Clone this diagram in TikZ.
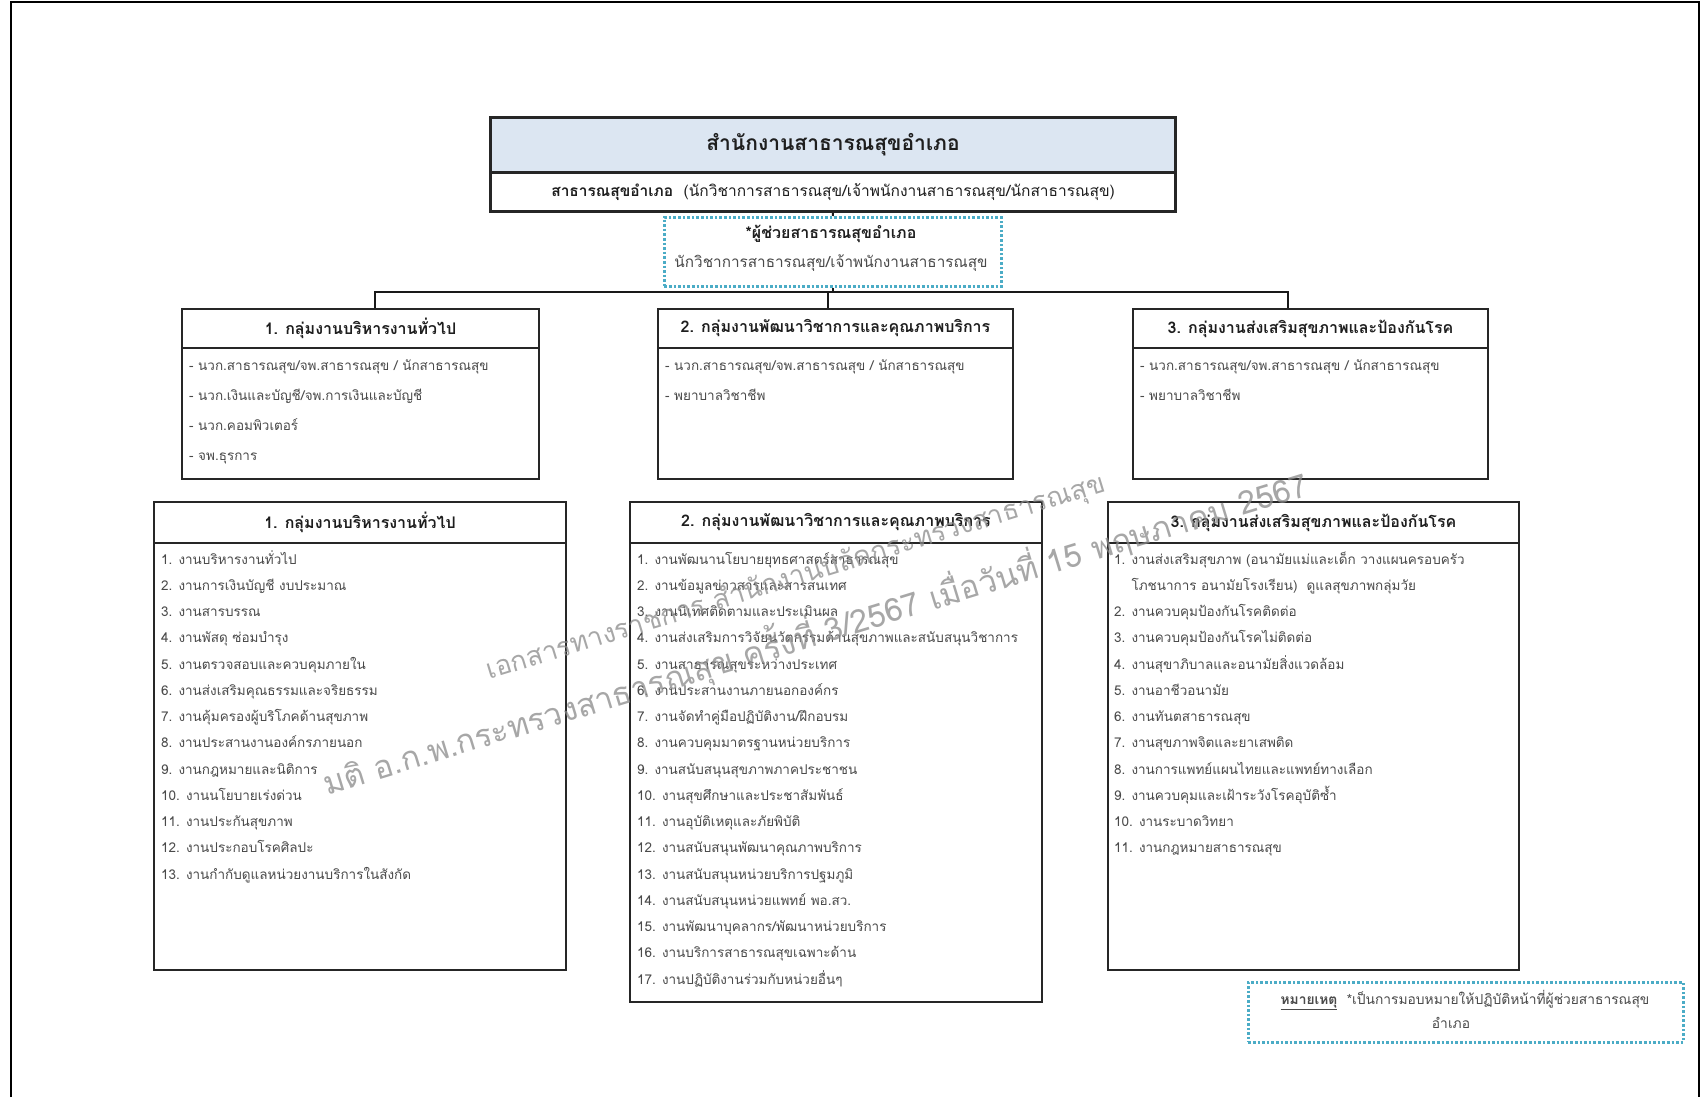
\documentclass[tikz,border=0pt]{standalone}
\usepackage{fontspec}
\setmainfont[Script=Thai]{Loma}
\usetikzlibrary{calc}
\definecolor{hdrblue}{HTML}{DCE6F2}
\definecolor{dotcyan}{HTML}{4BACC6}
\definecolor{itemgray}{HTML}{4A4A4A}
\definecolor{hdrtext}{HTML}{1E1E1E}
\definecolor{wmgray}{HTML}{8A8A8A}
\begin{document}
\begin{tikzpicture}[x=1pt,y=-1pt,
  box/.style={draw=black!85, line width=2pt, rectangle, inner sep=0pt, anchor=north west},
  topbox/.style={box, line width=3pt, minimum width=685pt},
  itm/.style={anchor=base west, inner sep=0pt, text=itemgray, font=\fontsize{13.5}{16}\selectfont},
  hdr/.style={inner sep=0pt, text=hdrtext, font=\bfseries\fontsize{16}{18}\selectfont},
  dotbox/.style={draw=dotcyan, line width=2.6pt, dotted, rectangle, inner sep=0pt, anchor=north west},
  conn/.style={draw=black!90, line width=2pt},
  wmark/.style={rotate=17, text=wmgray, opacity=0.75, inner sep=0pt}]
\useasboundingbox (0,0) rectangle (1704,1097);
\fill[white] (0,0) rectangle (1704,1097);
\draw[line width=1.2pt] (11,1097) -- (11,2) -- (1699,2) -- (1699,1097);

% top box
\node[topbox, fill=hdrblue, minimum height=55pt] (toph) at (489,116) {};
\node[topbox, minimum height=39pt] (tops) at (489,171) {};
\node[hdr, font=\bfseries\fontsize{21}{24}\selectfont] (toptitle) at (toph.center) {สำนักงานสาธารณสุขอำเภอ};
\node[inner sep=0pt, text=hdrtext, font=\fontsize{15.5}{17}\selectfont] (topsub) at (tops.center) {\textbf{สาธารณสุขอำเภอ}\ \ (นักวิชาการสาธารณสุข/เจ้าพนักงานสาธารณสุข/นักสาธารณสุข)};

% assistant box
\node[dotbox, minimum width=337pt, minimum height=69pt] (asst) at (663,216) {};
\node[hdr, font=\bfseries\fontsize{16}{18}\selectfont] (asst1) at (831,234) {*ผู้ช่วยสาธารณสุขอำเภอ};
\node[inner sep=0pt, text=itemgray, font=\fontsize{15.3}{17}\selectfont] (asst2) at (831,263) {นักวิชาการสาธารณสุข/เจ้าพนักงานสาธารณสุข};

% upper group boxes
\node[box, minimum width=357pt, minimum height=170pt] (g1) at (181,308) {};
\node[box, minimum width=357pt, minimum height=39pt] (g1h) at (181,308) {};
\node[box, minimum width=355pt, minimum height=170pt] (g2) at (657,308) {};
\node[box, minimum width=355pt, minimum height=39pt] (g2h) at (657,308) {};
\node[box, minimum width=355pt, minimum height=170pt] (g3) at (1132,308) {};
\node[box, minimum width=355pt, minimum height=39pt] (g3h) at (1132,308) {};
\node[hdr] (g1t) at (g1h.center) {1. กลุ่มงานบริหารงานทั่วไป};
\node[hdr] (g2t) at (g2h.center) {2. กลุ่มงานพัฒนาวิชาการและคุณภาพบริการ};
\node[hdr] (g3t) at (g3h.center) {3. กลุ่มงานส่งเสริมสุขภาพและป้องกันโรค};

\foreach \t [count=\i] in {{- นวก.สาธารณสุข/จพ.สาธารณสุข / นักสาธารณสุข},{- นวก.เงินและบัญชี/จพ.การเงินและบัญชี},{- นวก.คอมพิวเตอร์},{- จพ.ธุรการ}}
  \node[itm] (g1i\i) at (189,370+30*\i-30) {\t};
\foreach \t [count=\i] in {{- นวก.สาธารณสุข/จพ.สาธารณสุข / นักสาธารณสุข},{- พยาบาลวิชาชีพ}}
  \node[itm] (g2i\i) at (665,370+30*\i-30) {\t};
\foreach \t [count=\i] in {{- นวก.สาธารณสุข/จพ.สาธารณสุข / นักสาธารณสุข},{- พยาบาลวิชาชีพ}}
  \node[itm] (g3i\i) at (1140,370+30*\i-30) {\t};

% connectors
\coordinate (bus) at (828,292);
\coordinate (dx1) at (375,292);
\coordinate (dx3) at (1288,292);
\draw[conn] (tops.south) -- (asst.north);
\draw[conn] (asst.south) -- (asst.south |- bus);
\draw[conn] (g1.north -| dx1) -- (dx1) -- (dx3) -- (g3.north -| dx3);
\draw[conn] (g2.north -| bus) -- (bus);

% lower boxes
\node[box, minimum width=412pt, minimum height=468pt] (l1) at (153,501) {};
\node[box, minimum width=412pt, minimum height=41pt] (l1h) at (153,501) {};
\node[box, minimum width=412pt, minimum height=500pt] (l2) at (629,501) {};
\node[box, minimum width=412pt, minimum height=41pt] (l2h) at (629,501) {};
\node[box, minimum width=411pt, minimum height=468pt] (l3) at (1107,501) {};
\node[box, minimum width=411pt, minimum height=41pt] (l3h) at (1107,501) {};
\node[hdr] (l1t) at (l1h.center) {1. กลุ่มงานบริหารงานทั่วไป};
\node[hdr] (l2t) at (l2h.center) {2. กลุ่มงานพัฒนาวิชาการและคุณภาพบริการ};
\node[hdr] (l3t) at (l3h.center) {3. กลุ่มงานส่งเสริมสุขภาพและป้องกันโรค};

\foreach \t [count=\i] in {
  {1. งานบริหารงานทั่วไป},
  {2. งานการเงินบัญชี งบประมาณ},
  {3. งานสารบรรณ},
  {4. งานพัสดุ ซ่อมบำรุง},
  {5. งานตรวจสอบและควบคุมภายใน},
  {6. งานส่งเสริมคุณธรรมและจริยธรรม},
  {7. งานคุ้มครองผู้บริโภคด้านสุขภาพ},
  {8. งานประสานงานองค์กรภายนอก},
  {9. งานกฎหมายและนิติการ},
  {10. งานนโยบายเร่งด่วน},
  {11. งานประกันสุขภาพ},
  {12. งานประกอบโรคศิลปะ},
  {13. งานกำกับดูแลหน่วยงานบริการในสังกัด}}
  \node[itm] (l1i\i) at (161,564+26.25*\i-26.25) {\t};

\foreach \t [count=\i] in {
  {1. งานพัฒนานโยบายยุทธศาสตร์สาธารณสุข},
  {2. งานข้อมูลข่าวสารและสารสนเทศ},
  {3. งานนิเทศติดตามและประเมินผล},
  {4. งานส่งเสริมการวิจัยนวัตกรรมด้านสุขภาพและสนับสนุนวิชาการ},
  {5. งานสาธารณสุขระหว่างประเทศ},
  {6. งานประสานงานภายนอกองค์กร},
  {7. งานจัดทำคู่มือปฏิบัติงาน/ฝึกอบรม},
  {8. งานควบคุมมาตรฐานหน่วยบริการ},
  {9. งานสนับสนุนสุขภาพภาคประชาชน},
  {10. งานสุขศึกษาและประชาสัมพันธ์},
  {11. งานอุบัติเหตุและภัยพิบัติ},
  {12. งานสนับสนุนพัฒนาคุณภาพบริการ},
  {13. งานสนับสนุนหน่วยบริการปฐมภูมิ},
  {14. งานสนับสนุนหน่วยแพทย์ พอ.สว.},
  {15. งานพัฒนาบุคลากร/พัฒนาหน่วยบริการ},
  {16. งานบริการสาธารณสุขเฉพาะด้าน},
  {17. งานปฏิบัติงานร่วมกับหน่วยอื่นๆ}}
  \node[itm] (l2i\i) at (637,564+26.25*\i-26.25) {\t};

\foreach \t [count=\i] in {
  {1. งานส่งเสริมสุขภาพ (อนามัยแม่และเด็ก วางแผนครอบครัว},
  {\hphantom{1. }โภชนาการ อนามัยโรงเรียน)\ \ ดูแลสุขภาพกลุ่มวัย},
  {2. งานควบคุมป้องกันโรคติดต่อ},
  {3. งานควบคุมป้องกันโรคไม่ติดต่อ},
  {4. งานสุขาภิบาลและอนามัยสิ่งแวดล้อม},
  {5. งานอาชีวอนามัย},
  {6. งานทันตสาธารณสุข},
  {7. งานสุขภาพจิตและยาเสพติด},
  {8. งานการแพทย์แผนไทยและแพทย์ทางเลือก},
  {9. งานควบคุมและเฝ้าระวังโรคอุบัติซ้ำ},
  {10. งานระบาดวิทยา},
  {11. งานกฎหมายสาธารณสุข}}
  \node[itm] (l3i\i) at (1114,564+26.25*\i-26.25) {\t};

% watermark
\node[wmark, font=\fontsize{27}{30}\selectfont] (wm1) at (796,578) {เอกสารทางราชการ สำนักงานปลัดกระทรวงสาธารณสุข};
\node[wmark, font=\fontsize{32}{34}\selectfont] (wm2) at (815,633) {มติ อ.ก.พ.กระทรวงสาธารณสุข ครั้งที่ 3/2567 เมื่อวันที่ 15 พฤษภาคม 2567};

% footnote
\node[dotbox, minimum width=435pt, minimum height=60pt] (note) at (1247,981) {};
\node[inner sep=0pt, text=itemgray, font=\fontsize{13.8}{15}\selectfont] (note1) at (1465,1000) {\textbf{\underline{หมายเหตุ}}\ \ *เป็นการมอบหมายให้ปฏิบัติหน้าที่ผู้ช่วยสาธารณสุข};
\node[inner sep=0pt, text=itemgray, font=\fontsize{13.8}{15}\selectfont] (note2) at (1451,1023) {อำเภอ};
\end{tikzpicture}
\end{document}
